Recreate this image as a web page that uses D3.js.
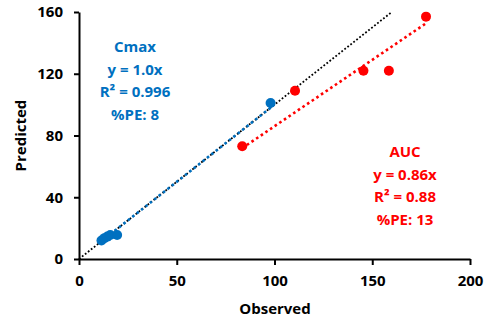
<!DOCTYPE html>
<html>
<head>
<meta charset="utf-8">
<script src="https://cdn.jsdelivr.net/npm/d3@7"></script>
<style>
  body { margin: 0; background: #fff; }
  text { font-family: "Open Sans", "Liberation Sans", sans-serif; font-weight: bold; }
</style>
</head>
<body>
<div id="chart"></div>
<script>
var width = 485;
var height = 320;

// data
var cmaxObserved = [11.5, 13, 14.5, 16, 19.5, 98];
var cmaxPredicted = [12, 13.5, 14.5, 15.5, 15.5, 101];
var aucObserved = [83.5, 110.5, 145.5, 158.5, 177.5];
var aucPredicted = [73, 109, 122, 122, 157];
var cmaxSlope = 1.0;
var aucSlope = 0.86;
var xTicks = [0, 50, 100, 150, 200];
var yTicks = [0, 40, 80, 120, 160];
var cmaxLabels = ['Cmax', 'y = 1.0x', 'R² = 0.996', '%PE: 8'];
var aucLabels = ['AUC', 'y = 0.86x', 'R² = 0.88', '%PE: 13'];

var blue = '#0070C0';
var red = '#FF0000';

var margin = {left: 79, top: 12, right: 15, bottom: 61};

var x = d3.scaleLinear().domain([0, 200]).range([margin.left, width - margin.right]);
var y = d3.scaleLinear().domain([0, 160]).range([height - margin.bottom, margin.top]);

var svg = d3.select('#chart')
    .append('svg')
    .attr('width', width)
    .attr('height', height);

// axes
var xAxis = svg.append('g')
    .attr('transform', 'translate(0,' + y(0) + ')')
    .call(d3.axisBottom(x).tickValues(xTicks).tickSize(6).tickSizeOuter(0).tickPadding(10));
var yAxis = svg.append('g')
    .attr('transform', 'translate(' + x(0) + ',0)')
    .call(d3.axisLeft(y).tickValues(yTicks).tickSize(5).tickSizeOuter(0).tickPadding(11));

[xAxis, yAxis].forEach(function(a) {
    a.select('.domain').attr('stroke', '#000').attr('stroke-width', 2);
    a.selectAll('.tick line').attr('stroke', '#000').attr('stroke-width', 2);
    a.selectAll('.tick text').attr('fill', '#000').style('font-size', '15px');
});

// line of identity
svg.append('line')
    .attr('x1', x(0)).attr('y1', y(0))
    .attr('x2', x(160)).attr('y2', y(160))
    .attr('stroke', '#000')
    .attr('stroke-width', 1.8)
    .attr('stroke-dasharray', '1.8,2');

// trend lines
function trend(xs, slope, color) {
    var x0 = d3.min(xs), x1 = d3.max(xs);
    svg.append('line')
        .attr('x1', x(x0)).attr('y1', y(slope * x0))
        .attr('x2', x(x1)).attr('y2', y(slope * x1))
        .attr('stroke', color)
        .attr('stroke-width', 2.6)
        .attr('stroke-dasharray', '2.6,3');
}
trend(cmaxObserved, cmaxSlope, blue);
trend(aucObserved, aucSlope, red);

// points
function points(xs, ys, color) {
    svg.append('g')
        .selectAll('circle')
        .data(xs)
        .enter()
        .append('circle')
        .attr('cx', d => x(d))
        .attr('cy', (d, i) => y(ys[i]))
        .attr('r', 5)
        .attr('fill', color);
}
points(cmaxObserved, cmaxPredicted, blue);
points(aucObserved, aucPredicted, red);

// annotation blocks
function block(lines, cx, cy, color) {
    svg.append('g')
        .selectAll('text')
        .data(lines)
        .enter()
        .append('text')
        .attr('x', cx)
        .attr('y', (d, i) => cy + i * 22.5)
        .attr('text-anchor', 'middle')
        .attr('dominant-baseline', 'central')
        .attr('fill', color)
        .style('font-size', '15px')
        .text(d => d);
}
block(cmaxLabels, 135, 46, blue);
block(aucLabels, 405, 151, red);

// axis titles
svg.append('text')
    .attr('x', 275)
    .attr('y', 308)
    .attr('text-anchor', 'middle')
    .attr('dominant-baseline', 'central')
    .style('font-size', '15px')
    .text('Observed');

svg.append('text')
    .attr('transform', 'translate(20,' + y(80) + ') rotate(-90)')
    .attr('text-anchor', 'middle')
    .attr('dominant-baseline', 'central')
    .style('font-size', '15px')
    .text('Predicted');
</script>
</body>
</html>
